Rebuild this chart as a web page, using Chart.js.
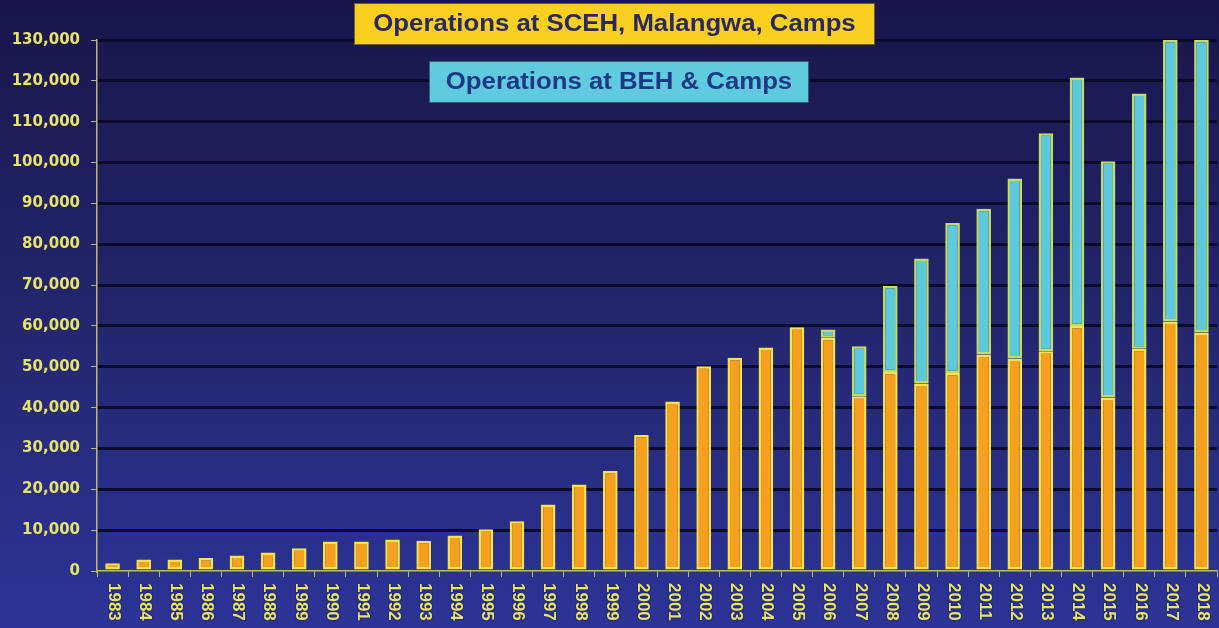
<!DOCTYPE html>
<html>
<head>
<meta charset="utf-8">
<title>Operations</title>
<script src="https://cdn.jsdelivr.net/npm/chart.js@4/dist/chart.umd.min.js"></script>
<style>
    body { margin: 0; background: #1f2060; }
    canvas { display: block; }
</style>
</head>
<body>
<canvas id="opsChart" width="1219" height="628"></canvas>
<script>
// years on the x axis
const years = ["1983", "1984", "1985", "1986", "1987", "1988", "1989", "1990", "1991", "1992",
    "1993", "1994", "1995", "1996", "1997", "1998", "1999", "2000", "2001", "2002",
    "2003", "2004", "2005", "2006", "2007", "2008", "2009", "2010", "2011", "2012",
    "2013", "2014", "2015", "2016", "2017", "2018"];

// operations at SCEH, Malangwa, Camps (orange, bottom of stack)
const scehOps = [1900, 2800, 2800, 3200, 3800, 4500, 5600, 7200, 7200, 7700,
    7400, 8700, 10200, 12200, 16300, 21200, 24500, 33300, 41500, 50100,
    52200, 54700, 59700, 57100, 42800, 48700, 45900, 48500, 53000, 52000,
    53800, 60000, 42500, 54400, 61100, 58400];

// operations at BEH & Camps (cyan, stacked on top)
const behOps = [null, null, null, null, null, null, null, null, null, null,
    null, null, null, null, null, null, null, null, null, null,
    null, null, null, 2000, 12200, 21100, 30600, 36700, 35700, 44100,
    53400, 60800, 57800, 62500, 68900, 71600];

const seriesNames = ["Operations at SCEH, Malangwa, Camps", "Operations at BEH & Camps"];

// y axis ticks
const yMax = 130000;
const yStep = 10000;

const tickYellow = "#e8e46a";
const axisYellow = "#bdb777";

/**
 * @brief paints the navy gradient behind the whole chart.
 */
const backgroundPlugin = {
    id: "bg",
    beforeDraw(chart) {
        let ctx = chart.ctx;
        let grad = ctx.createLinearGradient(0, 0, 0, chart.height);
        grad.addColorStop(0, "#18164a");
        grad.addColorStop(0.5, "#23266c");
        grad.addColorStop(1, "#2c3497");
        ctx.save();
        ctx.fillStyle = grad;
        ctx.fillRect(0, 0, chart.width, chart.height);
        ctx.restore();
    }
};

/**
 * @brief draws the year labels turned clockwise under each bar.
 */
const yearLabelPlugin = {
    id: "yearLabels",
    afterDraw(chart) {
        let ctx = chart.ctx;
        let xs = chart.scales.x;
        ctx.save();
        ctx.font = "bold 17px 'Liberation Sans', Arial, sans-serif";
        ctx.fillStyle = tickYellow;
        ctx.textAlign = "left";
        ctx.textBaseline = "middle";
        ctx.shadowColor = "rgba(0,0,0,0.6)";
        ctx.shadowBlur = 2;
        for (let i = 0; i < chart.data.labels.length; i++) {
            let x = xs.getPixelForValue(i);
            ctx.save();
            ctx.translate(x + 1, chart.chartArea.bottom + 12);
            ctx.rotate(Math.PI / 2);
            ctx.fillText(chart.data.labels[i], 0, 0);
            ctx.restore();
        }
        ctx.restore();
    }
};

/**
 * @brief draws the two coloured title boxes that act as the legend.
 */
const boxLegendPlugin = {
    id: "boxLegend",
    afterDraw(chart) {
        let ctx = chart.ctx;
        let boxes = [
            { x: 354, y: 3, w: 521, h: 42, fill: "#f9cf22", text: "#2a2860" },
            { x: 429, y: 61, w: 380, h: 42, fill: "#60cade", text: "#1f3886" }
        ];
        ctx.save();
        for (let i = 0; i < boxes.length; i++) {
            let b = boxes[i];
            ctx.fillStyle = b.fill;
            ctx.fillRect(b.x, b.y, b.w, b.h);
            ctx.strokeStyle = "rgba(20,20,40,0.6)";
            ctx.lineWidth = 1;
            ctx.strokeRect(b.x + 0.5, b.y + 0.5, b.w - 1, b.h - 1);

            ctx.save();
            ctx.translate(b.x + b.w / 2, b.y + b.h / 2 + 1);
            ctx.scale(1.12, 1);
            ctx.font = "bold 23px 'Liberation Sans', Arial, sans-serif";
            ctx.fillStyle = b.text;
            ctx.textAlign = "center";
            ctx.textBaseline = "middle";
            ctx.fillText(chart.data.datasets[i].label, 0, 0);
            ctx.restore();
        }
        ctx.restore();
    }
};

window.onload = () => {
    let canvas = document.getElementById("opsChart");

    new Chart(canvas, {
        type: "bar",
        data: {
            labels: years,
            datasets: [
                {
                    label: seriesNames[0],
                    data: scehOps,
                    backgroundColor: "#f5a01e",
                    borderColor: "#f8e34e",
                    borderWidth: 2.5,
                    borderSkipped: false,
                    barPercentage: 0.47,
                    categoryPercentage: 1
                },
                {
                    label: seriesNames[1],
                    data: behOps,
                    backgroundColor: "#5ec8dc",
                    borderColor: "#c4dc66",
                    borderWidth: 2.5,
                    borderSkipped: false,
                    barPercentage: 0.47,
                    categoryPercentage: 1
                }
            ]
        },
        options: {
            responsive: false,
            animation: false,
            devicePixelRatio: 1,
            layout: { padding: { top: 40, right: 2, left: 0, bottom: 0 } },
            plugins: {
                legend: { display: false },
                tooltip: { enabled: false }
            },
            scales: {
                x: {
                    stacked: true,
                    offset: true,
                    border: { display: true, color: axisYellow, width: 1.5 },
                    grid: {
                        drawOnChartArea: false,
                        drawTicks: true,
                        tickLength: 6,
                        tickColor: axisYellow,
                        tickWidth: 1,
                        offset: true
                    },
                    ticks: { display: false },
                    afterFit: (scale) => { scale.height = 57; }
                },
                y: {
                    stacked: true,
                    min: 0,
                    max: yMax,
                    border: { display: true, color: axisYellow, width: 1.5 },
                    grid: {
                        color: (c) => (c.tick && c.tick.value === 0) ? "rgba(0,0,0,0)" : "#0a0a2c",
                        lineWidth: 3,
                        tickColor: axisYellow,
                        tickWidth: 1,
                        tickLength: 6
                    },
                    ticks: {
                        stepSize: yStep,
                        padding: 11,
                        color: tickYellow,
                        font: { family: "'DejaVu Sans', sans-serif", weight: "bold", size: 15 },
                        callback: (v) => v.toLocaleString("en-US")
                    },
                    afterFit: (scale) => { scale.width = 97; }
                }
            }
        },
        plugins: [backgroundPlugin, yearLabelPlugin, boxLegendPlugin]
    });
};
</script>
</body>
</html>
